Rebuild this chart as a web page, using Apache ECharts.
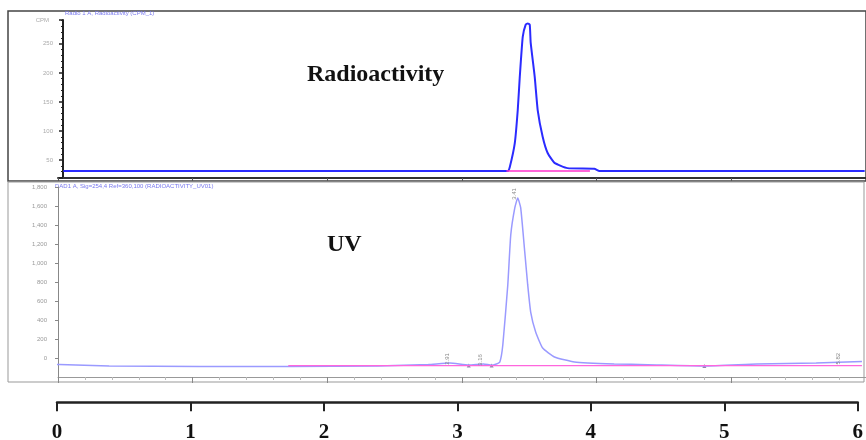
<!DOCTYPE html>
<html>
<head>
<meta charset="utf-8">
<title>Radio-HPLC chromatogram</title>
<script src="https://cdn.jsdelivr.net/npm/echarts@6/dist/echarts.min.js"></script>
<style>
  html, body { margin: 0; padding: 0; background: #fff; }
  #chart { width: 866px; height: 440px; }
</style>
</head>
<body>
<div id="chart"></div>
<script>
// --- values (retention time in min) ---
const radioTimes = [0.04, 1.0, 2.0, 3.0, 3.34, 3.355, 3.392, 3.414, 3.429, 3.451, 3.473, 3.488, 3.503, 3.51, 3.54, 3.562, 3.599, 3.636, 3.687, 3.783, 3.983, 4.02, 5.0, 5.99];
const radioCounts = [31, 31, 31, 31, 31, 38, 79, 136, 193, 262, 283, 285, 283, 252, 193, 136, 90, 62, 45, 36, 35, 31, 31, 31];
const radioBaseTimes = [3.33, 3.95];
const radioBaseCounts = [31, 31];

const uvTimes = [-0.35, 0.01, 0.38, 1.05, 1.71, 2.38, 2.75, 2.91, 3.05, 3.16, 3.22, 3.25, 3.281, 3.303, 3.34, 3.362, 3.392, 3.414, 3.436, 3.466, 3.488, 3.51, 3.547, 3.599, 3.687, 3.835, 4.13, 4.38, 4.80, 5.19, 5.63, 5.97];
const uvSignal = [-53, -68, -84, -90, -90, -84, -68, -53, -74, -63, -76, -66, -42, 137, 769, 1295, 1580, 1685, 1580, 1116, 769, 484, 274, 105, 11, -42, -63, -70, -84, -63, -53, -37];
const uvBaseTimes = [1.71, 5.97];
const uvBaseSignal = [-80, -80];
const uvMarkTimes = [3.05, 3.22, 4.80];
const uvMarkSignal = [-78, -78, -84];
const uvPeakTimes = [2.91, 3.16, 3.41, 5.82];
const uvPeakSignal = [-53, -63, 1685, -50];

const timeTicks = [0, 1, 2, 3, 4, 5, 6];

const zip = (xs, ys) => xs.map((x, i) => [x, ys[i]]);

const chart = echarts.init(document.getElementById('chart'));

const option = {
  animation: false,
  grid: [
    { left: 58, top: 20, width: 812, height: 158 },
    { left: 58, top: 187, width: 812, height: 190 },
    { left: 57, top: 402, width: 807, height: 1 },
  ],
  xAxis: [
    {
      gridIndex: 0,
      type: 'value',
      min: 0,
      max: 6,
      interval: 1,
      axisLine: { onZero: false, lineStyle: { color: '#333', width: 2 } },
      axisTick: { length: 3, lineStyle: { color: '#555' } },
      axisLabel: { show: false },
      splitLine: { show: false },
    },
    {
      gridIndex: 1,
      type: 'value',
      min: 0,
      max: 6,
      interval: 1,
      axisLine: { onZero: false, lineStyle: { color: '#999', width: 1 } },
      axisTick: { length: 6, lineStyle: { color: '#888' } },
      minorTick: { show: true, splitNumber: 5, length: 3, lineStyle: { color: '#bbb' } },
      axisLabel: { show: false },
      splitLine: { show: false },
    },
    {
      gridIndex: 2,
      type: 'value',
      min: 0,
      max: 6,
      interval: 1,
      axisLine: { onZero: false, lineStyle: { color: '#222', width: 2.5 } },
      axisTick: { length: 9, lineStyle: { color: '#222', width: 2 } },
      axisLabel: {
        margin: 20,
        color: '#111',
        fontFamily: 'Liberation Serif',
        fontWeight: 'bold',
        fontSize: 21,
        formatter: (v) => (timeTicks.includes(v) ? String(v) : ''),
      },
      splitLine: { show: false },
    },
  ],
  yAxis: [
    {
      gridIndex: 0,
      type: 'value',
      min: 19,
      max: 291,
      splitNumber: 5,
      offset: -5,
      name: 'CPM',
      nameLocation: 'end',
      nameGap: 0,
      nameTextStyle: { fontSize: 6, color: '#aaa', align: 'right', verticalAlign: 'middle', padding: [0, 14, 0, 0] },
      axisLine: { show: true, lineStyle: { color: '#222', width: 2 } },
      axisTick: { show: true, length: 4, lineStyle: { color: '#222', width: 1.5 } },
      minorTick: { show: true, splitNumber: 5, length: 2, lineStyle: { color: '#222' } },
      axisLabel: { fontSize: 6, color: '#aaa', margin: 10, showMinLabel: false, showMaxLabel: false },
      splitLine: { show: false },
    },
    {
      gridIndex: 1,
      type: 'value',
      min: -200,
      max: 1800,
      interval: 200,
      offset: 6,
      axisLine: { show: true, lineStyle: { color: '#888' } },
      axisTick: { show: true, length: 3, lineStyle: { color: '#888' } },
      axisLabel: { fontSize: 6, color: '#999', margin: 5, showMinLabel: false },
      splitLine: { show: false },
    },
    { gridIndex: 2, type: 'value', min: 0, max: 1, show: false },
  ],
  series: [
    {
      name: 'Radioactivity',
      type: 'line',
      xAxisIndex: 0,
      yAxisIndex: 0,
      data: zip(radioTimes, radioCounts),
      symbol: 'none',
      smooth: 0.15,
      lineStyle: { color: '#2b2bff', width: 2 },
    },
    {
      name: 'Radioactivity baseline',
      type: 'line',
      xAxisIndex: 0,
      yAxisIndex: 0,
      data: zip(radioBaseTimes, radioBaseCounts),
      symbol: 'none',
      lineStyle: { color: '#ff33cc', width: 1.5 },
    },
    {
      name: 'UV',
      type: 'line',
      xAxisIndex: 1,
      yAxisIndex: 1,
      data: zip(uvTimes, uvSignal),
      symbol: 'none',
      smooth: 0.15,
      clip: false,
      lineStyle: { color: '#9a9aff', width: 1.5 },
      markPoint: {
        symbol: 'circle',
        symbolSize: 0,
        label: {
          show: true,
          position: 'top',
          distance: 4,
          rotate: 90,
          fontSize: 6,
          color: '#888',
          formatter: (p) => p.data.coord[0].toFixed(2),
        },
        data: uvPeakTimes.map((t, i) => ({ coord: [t, uvPeakSignal[i]] })),
      },
    },
    {
      name: 'UV baseline',
      type: 'line',
      xAxisIndex: 1,
      yAxisIndex: 1,
      data: zip(uvBaseTimes, uvBaseSignal),
      symbol: 'none',
      lineStyle: { color: '#ff66dd', width: 1.2 },
    },
    {
      name: 'UV marks',
      type: 'scatter',
      xAxisIndex: 1,
      yAxisIndex: 1,
      data: zip(uvMarkTimes, uvMarkSignal),
      symbol: 'triangle',
      symbolSize: 4,
      itemStyle: { color: '#776699' },
    },
  ],
  graphic: [
    { type: 'rect', shape: { x: 8, y: 11, width: 858, height: 170 }, style: { fill: 'none', stroke: '#444', lineWidth: 1.5 }, silent: true },
    { type: 'rect', shape: { x: 8, y: 182, width: 856, height: 200 }, style: { fill: 'none', stroke: '#999', lineWidth: 1 }, silent: true },
    { type: 'text', left: 65, top: 10, style: { text: 'Radio 1 A, Radioactivity (CPM_1)', font: '6px sans-serif', fill: '#7777ee' } },
    { type: 'text', left: 55, top: 183, style: { text: 'DAD1 A, Sig=254,4 Ref=360,100 (RADIOACTIVITY_UV01)', font: '6px sans-serif', fill: '#7777ee' } },
    { type: 'text', left: 307, top: 63, style: { text: 'Radioactivity', font: 'bold 24px "Liberation Serif"', fill: '#111' } },
    { type: 'text', left: 327, top: 233, style: { text: 'UV', font: 'bold 24px "Liberation Serif"', fill: '#111' } },
  ],
};

chart.setOption(option);
</script>
</body>
</html>
